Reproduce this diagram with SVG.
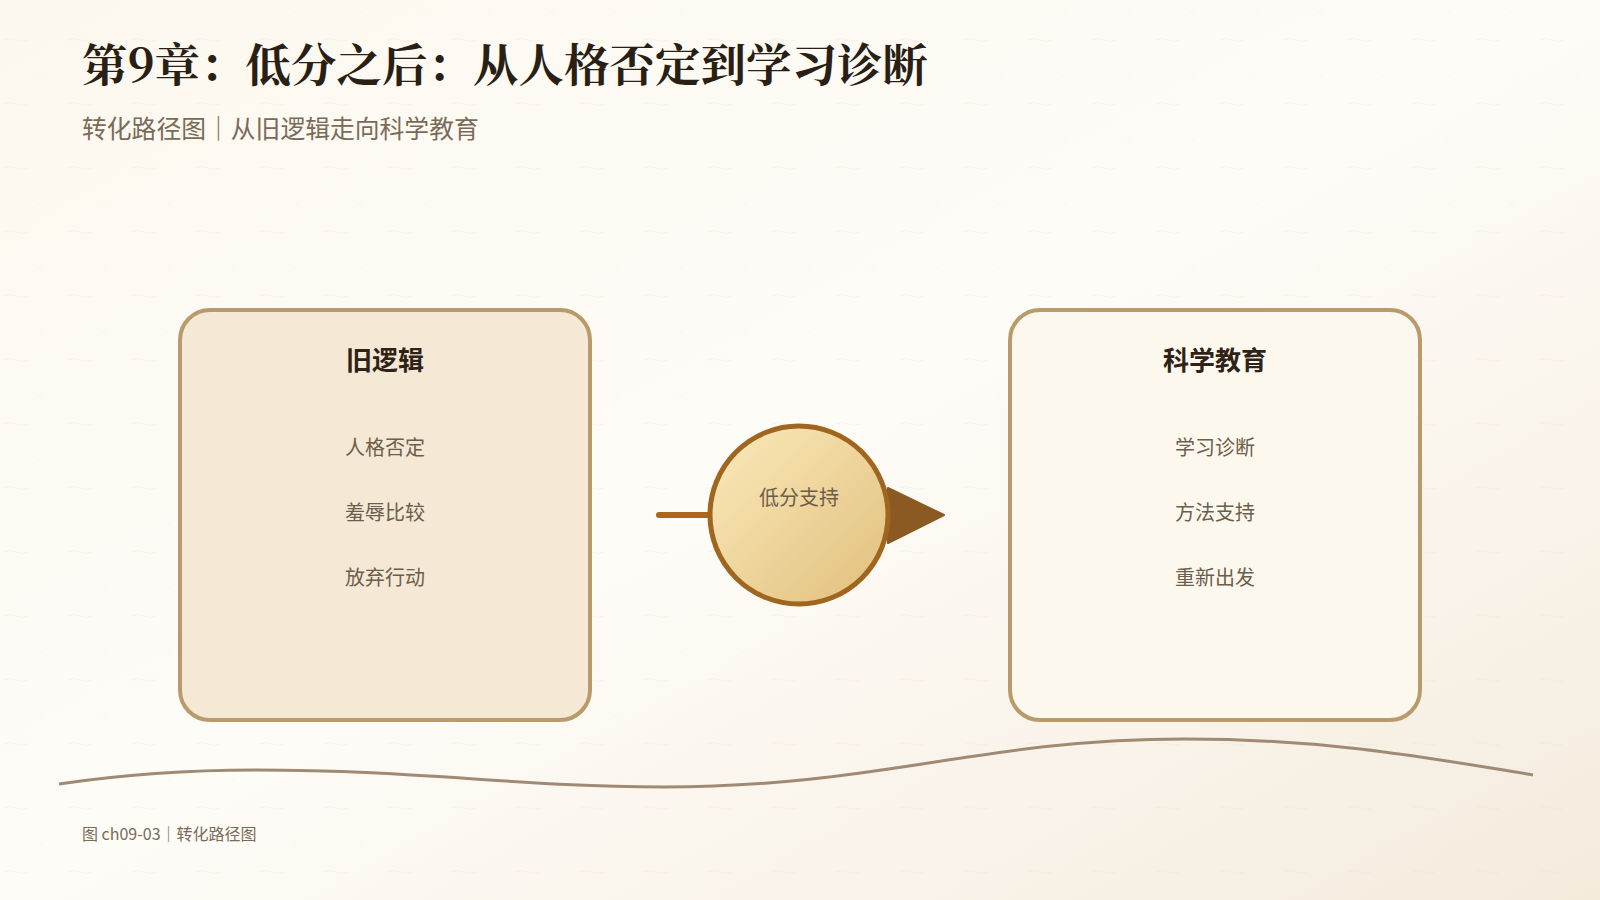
<svg xmlns="http://www.w3.org/2000/svg" width="1600" height="900" viewBox="0 0 1600 900">
<defs>
<linearGradient id="bg" x1="0" y1="0" x2="1" y2="1">
<stop offset="0" stop-color="#fcf8ef"/>
<stop offset="0.5" stop-color="#fefcf7"/>
<stop offset="1" stop-color="#f4ebdd"/>
</linearGradient>
<linearGradient id="hub" x1="0" y1="0" x2="1" y2="1">
<stop offset="0" stop-color="#fbeabb"/>
<stop offset="1" stop-color="#e0bf7c"/>
</linearGradient>
<pattern id="tex" width="64" height="64" patternUnits="userSpaceOnUse">
<path d="M4 40 q6 -3 12 0 t12 0" fill="none" stroke="#e9dfcc" stroke-width="1" opacity="0.35"/>
<circle cx="40" cy="12" r="0.8" fill="#e6dac4" opacity="0.4"/>
</pattern>
<style>
.title{font-family:"Noto Serif CJK SC","Liberation Serif","Noto Sans CJK SC",serif;font-weight:700;font-size:45.5px;fill:#2a1f14}
.sub{font-family:"Noto Sans CJK SC","Noto Sans",sans-serif;font-size:24.8px;fill:#7a6a58}
.foot{font-family:"Noto Sans CJK SC","Noto Sans",sans-serif;font-size:16px;fill:#7a6a58}
.card{stroke:#b99b6b;stroke-width:4}
.head{font-family:"Noto Sans CJK SC",sans-serif;font-weight:700;font-size:26px;fill:#2f2216;text-anchor:middle}
.item{font-family:"Noto Sans CJK SC",sans-serif;font-size:20px;fill:#6e5d4b;text-anchor:middle}
</style>
</defs>
<rect width="1600" height="900" fill="url(#bg)"/>
<rect width="1600" height="900" fill="url(#tex)"/>
<text class="title" x="82" y="82">第9章：低分之后：从人格否定到学习诊断</text>
<text class="sub" x="82" y="138">转化路径图｜从旧逻辑走向科学教育</text>
<g id="connectors">
<line x1="659" y1="515" x2="900" y2="515" stroke="#a8691f" stroke-width="6" stroke-linecap="round"/>
<polygon points="888,488 944,515 888,543" fill="#8b5a22" stroke="#8b5a22" stroke-width="2" stroke-linejoin="round"/>
</g>
<g id="node-old">
<rect class="card" x="180" y="310" width="410" height="410" rx="30" fill="#f5e9d6"/>
<text class="head" x="385" y="370">旧逻辑</text>
<text class="item" x="385" y="455">人格否定</text>
<text class="item" x="385" y="520">羞辱比较</text>
<text class="item" x="385" y="585">放弃行动</text>
</g>
<g id="node-hub">
<circle cx="799" cy="515" r="89" fill="url(#hub)" stroke="#a0651e" stroke-width="5"/>
<text class="item" x="799" y="505">低分支持</text>
</g>
<g id="node-new">
<rect class="card" x="1010" y="310" width="410" height="410" rx="30" fill="#fdf8ee"/>
<text class="head" x="1215" y="370">科学教育</text>
<text class="item" x="1215" y="455">学习诊断</text>
<text class="item" x="1215" y="520">方法支持</text>
<text class="item" x="1215" y="585">重新出发</text>
</g>
<path d="M59 784 C120 775 190 770 255 770 C420 770 520 787 663 787 C880 787 980 739 1184 739 C1330 739 1430 758 1533 775" fill="none" stroke="#a08a74" stroke-width="3"/>
<text class="foot" x="82" y="840">图 ch09-03｜转化路径图</text>
</svg>
